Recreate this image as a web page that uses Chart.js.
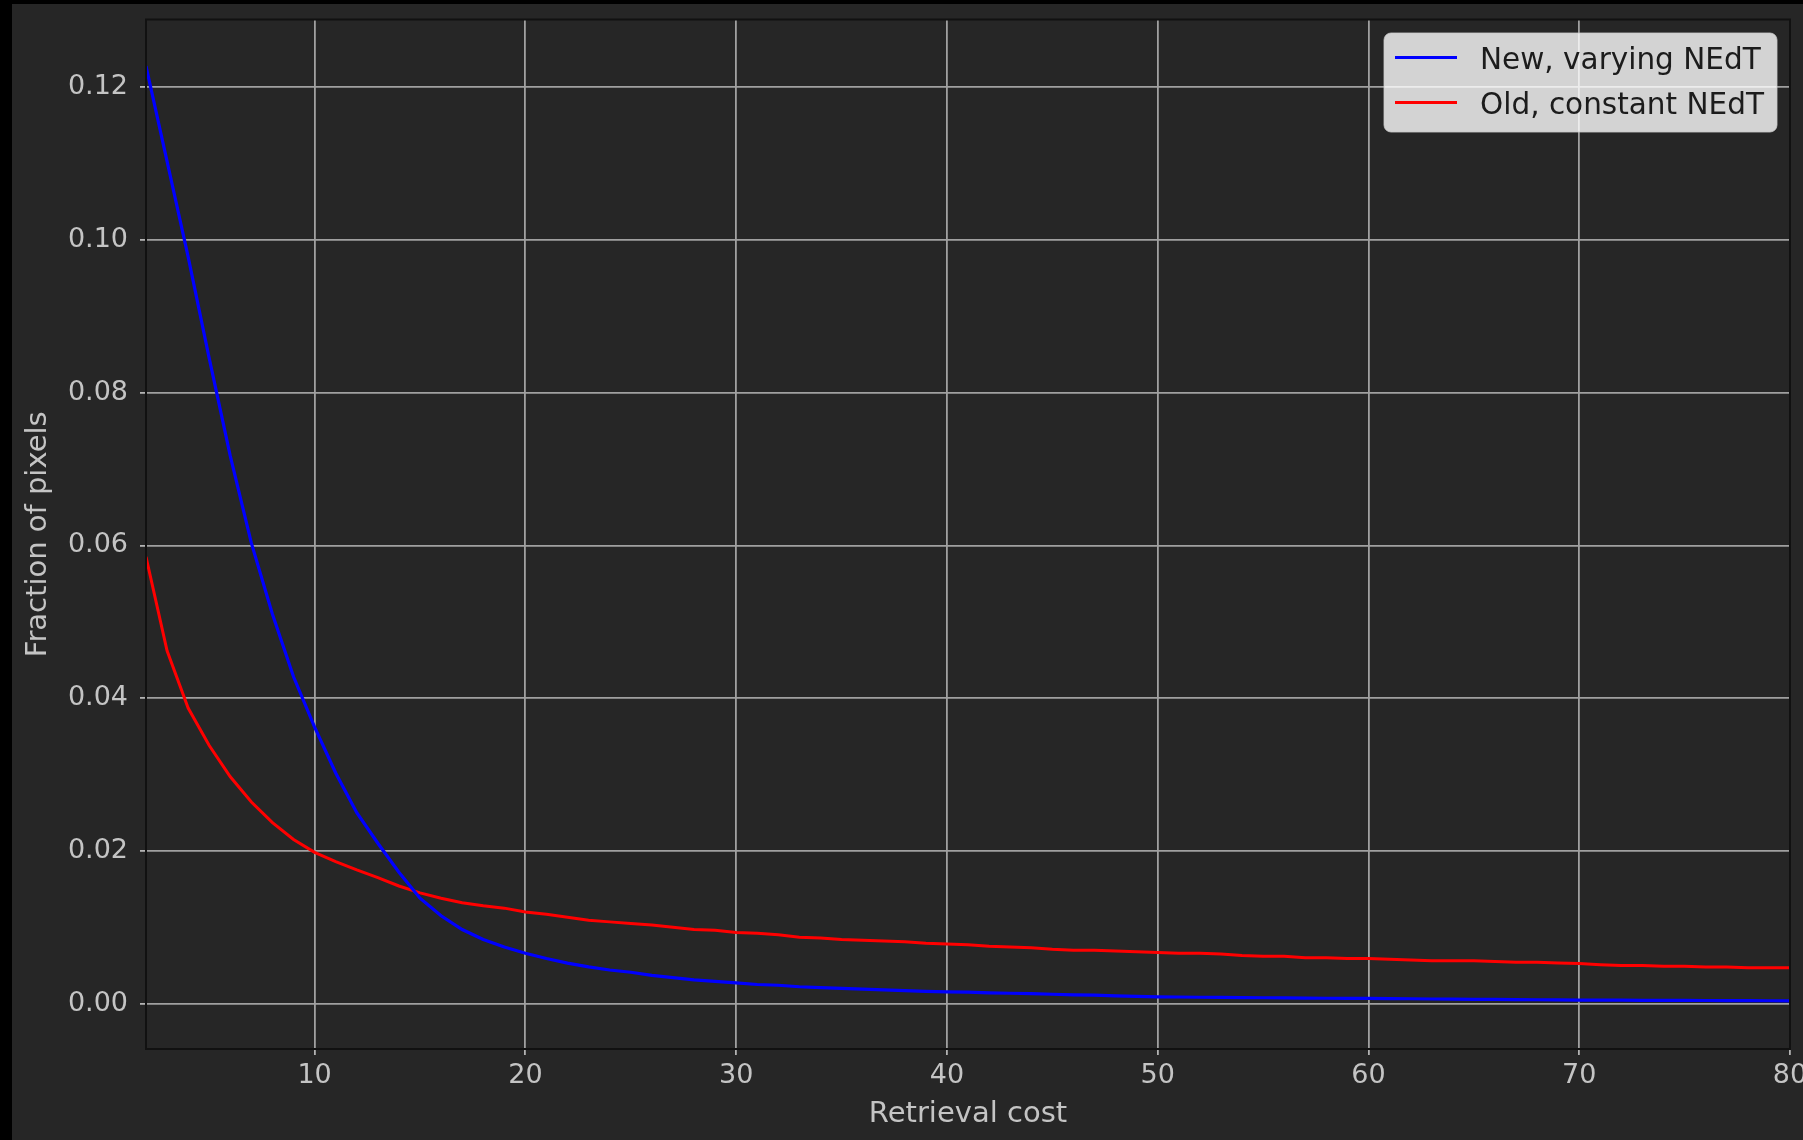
<!DOCTYPE html>
<html>
<head>
<meta charset="utf-8">
<title>Retrieval cost</title>
<script src="https://cdn.jsdelivr.net/npm/chart.js@4.4.1/dist/chart.umd.min.js"></script>
<style>
  html, body { margin: 0; padding: 0; background: #000; }
  #wrap { position: absolute; left: 12px; top: 4px; width: 1791px; height: 1136px; background: #262626; }
  canvas { display: block; }
</style>
</head>
<body>
<div id="wrap"><canvas id="chart" width="1791" height="1136"></canvas></div>
<script>
// ---------- Data ----------
const costs = [
  2, 3, 4, 5, 6, 7, 8, 9, 10, 11, 12, 13, 14, 15, 16, 17, 18, 19, 20, 21,
  22, 23, 24, 25, 26, 27, 28, 29, 30, 31, 32, 33, 34, 35, 36, 37, 38, 39, 40, 41,
  42, 43, 44, 45, 46, 47, 48, 49, 50, 51, 52, 53, 54, 55, 56, 57, 58, 59, 60, 61,
  62, 63, 64, 65, 66, 67, 68, 69, 70, 71, 72, 73, 74, 75, 76, 77, 78, 79, 80
];
const newVarying = [
  0.1228, 0.1103, 0.0978, 0.0845, 0.0717, 0.0603, 0.0510, 0.0428, 0.0362, 0.0302,
  0.0250, 0.0210, 0.0172, 0.0138, 0.0115, 0.0097, 0.0084, 0.0074, 0.0066, 0.0059,
  0.0053, 0.0048, 0.0044, 0.0041, 0.0037, 0.0034, 0.0031, 0.0029, 0.0027, 0.0025,
  0.0024, 0.0022, 0.0021, 0.0020, 0.0019, 0.0018, 0.0017, 0.0016, 0.00154, 0.0015,
  0.0014, 0.00135, 0.0013, 0.00122, 0.00115, 0.0011, 0.00102, 0.00095, 0.00089, 0.00086,
  0.00083, 0.0008, 0.00078, 0.00076, 0.00074, 0.00072, 0.0007, 0.00069, 0.00068, 0.00065,
  0.00063, 0.0006, 0.00058, 0.00056, 0.00054, 0.00052, 0.0005, 0.00048, 0.00046, 0.00045,
  0.00044, 0.00043, 0.00042, 0.00041, 0.0004, 0.00039, 0.00038, 0.00037, 0.00036
];
const oldConstant = [
  0.0585, 0.0462, 0.0387, 0.0338, 0.0297, 0.0264, 0.0237, 0.0215, 0.0198, 0.0186,
  0.0175, 0.0165, 0.0154, 0.0145, 0.0138, 0.0132, 0.0128, 0.0125, 0.0120, 0.0117,
  0.0113, 0.0109, 0.0107, 0.0105, 0.0103, 0.0100, 0.0097, 0.0096, 0.0093, 0.0092,
  0.0090, 0.0087, 0.0086, 0.0084, 0.0083, 0.0082, 0.0081, 0.0079, 0.0078, 0.0077,
  0.0075, 0.0074, 0.0073, 0.0071, 0.0070, 0.0070, 0.0069, 0.0068, 0.0067, 0.0066,
  0.0066, 0.0065, 0.0063, 0.0062, 0.0062, 0.0060, 0.0060, 0.0059, 0.0059, 0.0058,
  0.0057, 0.0056, 0.0056, 0.0056, 0.0055, 0.0054, 0.0054, 0.0053, 0.00525, 0.0051,
  0.0050, 0.0050, 0.0049, 0.0049, 0.0048, 0.0048, 0.0047, 0.0047, 0.0047
];
const seriesLabels = ['New, varying NEdT', 'Old, constant NEdT'];
const xTitle = 'Retrieval cost';
const yTitle = 'Fraction of pixels';

// ---------- Look ----------
const FONT = 'DejaVu Sans';
const TICK_COLOR = '#c4c4c4';
const GRID_COLOR = '#a0a0a0';

const toPoints = (vals) => vals.map((v, i) => ({ x: costs[i], y: v }));

// frame round the plot area (matplotlib spines)
const frame = {
  id: 'frame',
  afterDatasetsDraw(chart){
    const { ctx, chartArea: a } = chart;
    ctx.save();
    ctx.strokeStyle = '#111111';
    ctx.lineWidth = 2;
    ctx.strokeRect(a.left, a.top, a.right - a.left, a.bottom - a.top);
    ctx.restore();
  }
};

// legend in the upper right corner, inside the axes
const insideLegend = {
  id: 'insideLegend',
  afterDraw(chart){
    const { ctx, chartArea: a } = chart;
    const w = 393, h = 99;
    const x = a.right - 13 - w;
    const y = a.top + 13.5;
    ctx.save();
    ctx.beginPath();
    ctx.roundRect(x, y, w, h, 7);
    ctx.fillStyle = 'rgba(255,255,255,0.8)';
    ctx.fill();
    ctx.strokeStyle = 'rgba(204,204,204,0.8)';
    ctx.lineWidth = 1;
    ctx.stroke();
    ctx.font = `29.5px "${FONT}"`;
    ctx.textBaseline = 'middle';
    ctx.textAlign = 'left';
    chart.data.datasets.forEach((ds, i) => {
      const ly = y + 24.5 + i * 45;
      ctx.beginPath();
      ctx.moveTo(x + 11, ly);
      ctx.lineTo(x + 73, ly);
      ctx.strokeStyle = ds.borderColor;
      ctx.lineWidth = 3;
      ctx.stroke();
      ctx.fillStyle = '#1c1c1c';
      ctx.fillText(ds.label, x + 96, ly + 3.5);
    });
    ctx.restore();
  }
};

const ctx = document.getElementById('chart').getContext('2d');
const chart = new Chart(ctx, {
  type: 'line',
  data: {
    datasets: [
      { label: seriesLabels[0], data: toPoints(newVarying), borderColor: '#0000ff',
        borderWidth: 3.2, pointRadius: 0, tension: 0, fill: false },
      { label: seriesLabels[1], data: toPoints(oldConstant), borderColor: '#ff0000',
        borderWidth: 3, pointRadius: 0, tension: 0, fill: false }
    ]
  },
  options: {
    responsive: false, animation: false, devicePixelRatio: 1,
    layout: { padding: { left: 0, top: 15.5, right: 13, bottom: 0 } },
    plugins: { legend: { display: false }, tooltip: { enabled: false } },
    scales: {
      x: {
        type: 'linear', min: 2, max: 80,
        afterFit(s){ s.height = 91; s.paddingLeft = 0; s.paddingRight = 0; },
        ticks: { stepSize: 10, includeBounds: false, color: TICK_COLOR, padding: 5,
                 font: { family: FONT, size: 27 }, maxRotation: 0 },
        grid: { color: GRID_COLOR, lineWidth: 1.8, tickLength: 6, tickColor: TICK_COLOR, tickWidth: 1.6 },
        border: { display: false },
        title: { display: true, text: xTitle, color: TICK_COLOR,
                 font: { family: FONT, size: 29 }, padding: { top: 0, bottom: 8.6 } }
      },
      y: {
        type: 'linear', min: -0.00595, max: 0.12889,
        afterFit(s){ s.width = 134; s.paddingTop = 0; s.paddingBottom = 0; },
        ticks: { stepSize: 0.02, includeBounds: false, color: TICK_COLOR, padding: 12,
                 font: { family: FONT, size: 27 }, callback: (v) => v.toFixed(2) },
        grid: { color: GRID_COLOR, lineWidth: 1.8, tickLength: 6, tickColor: TICK_COLOR, tickWidth: 1.6 },
        border: { display: false },
        title: { display: true, text: yTitle, color: TICK_COLOR,
                 font: { family: FONT, size: 29 }, padding: { top: 8.6, bottom: 0 } }
      }
    }
  },
  plugins: [frame, insideLegend]
});
</script>
</body>
</html>
